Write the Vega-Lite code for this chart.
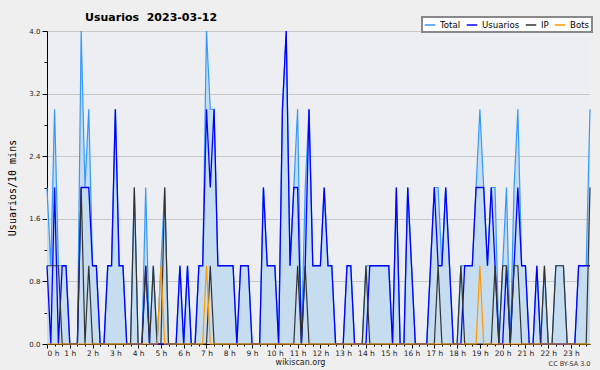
{
"$schema": "https://vega.github.io/schema/vega-lite/v6.json",
"width": 543, "height": 313,
"autosize": {"type": "none"},
"padding": {"left": 47, "top": 31, "right": 10, "bottom": 26},
"background": "#efefef",
"config": {"font": "DejaVu Sans", "view": {"fill": "#eceef1", "stroke": null}},
"title": {"text": "Usuarios\u00a0 2023-03-12", "anchor": "start", "frame": "group", "dx": 38, "dy": 26, "offset": 10, "fontSize": 11, "fontWeight": "bold", "font": "DejaVu Sans", "color": "#000", "baseline": "alphabetic"},
"data": {"values": [
{"t":0,"Total":2,"Usuarios":1,"IP":1,"Bots":0},
{"t":1,"Total":1,"Usuarios":0,"IP":1,"Bots":0},
{"t":2,"Total":3,"Usuarios":2,"IP":1,"Bots":0},
{"t":3,"Total":1,"Usuarios":0,"IP":1,"Bots":0},
{"t":4,"Total":1,"Usuarios":1,"IP":0,"Bots":0},
{"t":5,"Total":1,"Usuarios":1,"IP":0,"Bots":0},
{"t":6,"Total":0,"Usuarios":0,"IP":0,"Bots":0},
{"t":7,"Total":0,"Usuarios":0,"IP":0,"Bots":0},
{"t":8,"Total":0,"Usuarios":0,"IP":0,"Bots":0},
{"t":9,"Total":4,"Usuarios":2,"IP":2,"Bots":0},
{"t":10,"Total":2,"Usuarios":2,"IP":0,"Bots":0},
{"t":11,"Total":3,"Usuarios":2,"IP":1,"Bots":0},
{"t":12,"Total":1,"Usuarios":1,"IP":0,"Bots":0},
{"t":13,"Total":1,"Usuarios":1,"IP":0,"Bots":0},
{"t":14,"Total":0,"Usuarios":0,"IP":0,"Bots":0},
{"t":15,"Total":0,"Usuarios":0,"IP":0,"Bots":0},
{"t":16,"Total":1,"Usuarios":1,"IP":0,"Bots":0},
{"t":17,"Total":1,"Usuarios":1,"IP":0,"Bots":0},
{"t":18,"Total":3,"Usuarios":3,"IP":0,"Bots":0},
{"t":19,"Total":1,"Usuarios":1,"IP":0,"Bots":0},
{"t":20,"Total":1,"Usuarios":1,"IP":0,"Bots":0},
{"t":21,"Total":0,"Usuarios":0,"IP":0,"Bots":0},
{"t":22,"Total":0,"Usuarios":0,"IP":0,"Bots":0},
{"t":23,"Total":2,"Usuarios":0,"IP":2,"Bots":0},
{"t":24,"Total":0,"Usuarios":0,"IP":0,"Bots":0},
{"t":25,"Total":0,"Usuarios":0,"IP":0,"Bots":0},
{"t":26,"Total":2,"Usuarios":1,"IP":1,"Bots":0},
{"t":27,"Total":0,"Usuarios":0,"IP":0,"Bots":0},
{"t":28,"Total":1,"Usuarios":0,"IP":1,"Bots":0},
{"t":29,"Total":0,"Usuarios":0,"IP":0,"Bots":0},
{"t":30,"Total":1,"Usuarios":0,"IP":0,"Bots":1},
{"t":31,"Total":2,"Usuarios":0,"IP":2,"Bots":0},
{"t":32,"Total":0,"Usuarios":0,"IP":0,"Bots":0},
{"t":33,"Total":0,"Usuarios":0,"IP":0,"Bots":0},
{"t":34,"Total":0,"Usuarios":0,"IP":0,"Bots":0},
{"t":35,"Total":1,"Usuarios":1,"IP":0,"Bots":0},
{"t":36,"Total":0,"Usuarios":0,"IP":0,"Bots":0},
{"t":37,"Total":1,"Usuarios":1,"IP":0,"Bots":0},
{"t":38,"Total":0,"Usuarios":0,"IP":0,"Bots":0},
{"t":39,"Total":0,"Usuarios":0,"IP":0,"Bots":0},
{"t":40,"Total":1,"Usuarios":1,"IP":0,"Bots":0},
{"t":41,"Total":1,"Usuarios":1,"IP":0,"Bots":0},
{"t":42,"Total":4,"Usuarios":3,"IP":0,"Bots":1},
{"t":43,"Total":3,"Usuarios":2,"IP":1,"Bots":0},
{"t":44,"Total":3,"Usuarios":3,"IP":0,"Bots":0},
{"t":45,"Total":1,"Usuarios":1,"IP":0,"Bots":0},
{"t":46,"Total":1,"Usuarios":1,"IP":0,"Bots":0},
{"t":47,"Total":1,"Usuarios":1,"IP":0,"Bots":0},
{"t":48,"Total":1,"Usuarios":1,"IP":0,"Bots":0},
{"t":49,"Total":1,"Usuarios":1,"IP":0,"Bots":0},
{"t":50,"Total":0,"Usuarios":0,"IP":0,"Bots":0},
{"t":51,"Total":1,"Usuarios":1,"IP":0,"Bots":0},
{"t":52,"Total":1,"Usuarios":1,"IP":0,"Bots":0},
{"t":53,"Total":1,"Usuarios":1,"IP":0,"Bots":0},
{"t":54,"Total":0,"Usuarios":0,"IP":0,"Bots":0},
{"t":55,"Total":0,"Usuarios":0,"IP":0,"Bots":0},
{"t":56,"Total":0,"Usuarios":0,"IP":0,"Bots":0},
{"t":57,"Total":2,"Usuarios":2,"IP":0,"Bots":0},
{"t":58,"Total":1,"Usuarios":1,"IP":0,"Bots":0},
{"t":59,"Total":1,"Usuarios":1,"IP":0,"Bots":0},
{"t":60,"Total":1,"Usuarios":1,"IP":0,"Bots":0},
{"t":61,"Total":0,"Usuarios":0,"IP":0,"Bots":0},
{"t":62,"Total":3,"Usuarios":3,"IP":0,"Bots":0},
{"t":63,"Total":4,"Usuarios":4,"IP":0,"Bots":0},
{"t":64,"Total":1,"Usuarios":1,"IP":0,"Bots":0},
{"t":65,"Total":2,"Usuarios":2,"IP":0,"Bots":0},
{"t":66,"Total":3,"Usuarios":2,"IP":1,"Bots":0},
{"t":67,"Total":0,"Usuarios":0,"IP":0,"Bots":0},
{"t":68,"Total":2,"Usuarios":1,"IP":1,"Bots":0},
{"t":69,"Total":3,"Usuarios":3,"IP":0,"Bots":0},
{"t":70,"Total":1,"Usuarios":1,"IP":0,"Bots":0},
{"t":71,"Total":1,"Usuarios":1,"IP":0,"Bots":0},
{"t":72,"Total":1,"Usuarios":1,"IP":0,"Bots":0},
{"t":73,"Total":2,"Usuarios":2,"IP":0,"Bots":0},
{"t":74,"Total":1,"Usuarios":1,"IP":0,"Bots":0},
{"t":75,"Total":1,"Usuarios":1,"IP":0,"Bots":0},
{"t":76,"Total":0,"Usuarios":0,"IP":0,"Bots":0},
{"t":77,"Total":0,"Usuarios":0,"IP":0,"Bots":0},
{"t":78,"Total":0,"Usuarios":0,"IP":0,"Bots":0},
{"t":79,"Total":1,"Usuarios":1,"IP":0,"Bots":0},
{"t":80,"Total":1,"Usuarios":1,"IP":0,"Bots":0},
{"t":81,"Total":0,"Usuarios":0,"IP":0,"Bots":0},
{"t":82,"Total":0,"Usuarios":0,"IP":0,"Bots":0},
{"t":83,"Total":0,"Usuarios":0,"IP":0,"Bots":0},
{"t":84,"Total":1,"Usuarios":0,"IP":1,"Bots":0},
{"t":85,"Total":1,"Usuarios":1,"IP":0,"Bots":0},
{"t":86,"Total":1,"Usuarios":1,"IP":0,"Bots":0},
{"t":87,"Total":1,"Usuarios":1,"IP":0,"Bots":0},
{"t":88,"Total":1,"Usuarios":1,"IP":0,"Bots":0},
{"t":89,"Total":1,"Usuarios":1,"IP":0,"Bots":0},
{"t":90,"Total":1,"Usuarios":1,"IP":0,"Bots":0},
{"t":91,"Total":0,"Usuarios":0,"IP":0,"Bots":0},
{"t":92,"Total":2,"Usuarios":2,"IP":0,"Bots":0},
{"t":93,"Total":0,"Usuarios":0,"IP":0,"Bots":0},
{"t":94,"Total":0,"Usuarios":0,"IP":0,"Bots":0},
{"t":95,"Total":2,"Usuarios":2,"IP":0,"Bots":0},
{"t":96,"Total":1,"Usuarios":1,"IP":0,"Bots":0},
{"t":97,"Total":0,"Usuarios":0,"IP":0,"Bots":0},
{"t":98,"Total":0,"Usuarios":0,"IP":0,"Bots":0},
{"t":99,"Total":0,"Usuarios":0,"IP":0,"Bots":0},
{"t":100,"Total":0,"Usuarios":0,"IP":0,"Bots":0},
{"t":101,"Total":1,"Usuarios":1,"IP":0,"Bots":0},
{"t":102,"Total":2,"Usuarios":2,"IP":0,"Bots":0},
{"t":103,"Total":2,"Usuarios":1,"IP":1,"Bots":0},
{"t":104,"Total":1,"Usuarios":1,"IP":0,"Bots":0},
{"t":105,"Total":2,"Usuarios":2,"IP":0,"Bots":0},
{"t":106,"Total":1,"Usuarios":1,"IP":0,"Bots":0},
{"t":107,"Total":0,"Usuarios":0,"IP":0,"Bots":0},
{"t":108,"Total":0,"Usuarios":0,"IP":0,"Bots":0},
{"t":109,"Total":1,"Usuarios":0,"IP":1,"Bots":0},
{"t":110,"Total":1,"Usuarios":1,"IP":0,"Bots":0},
{"t":111,"Total":1,"Usuarios":1,"IP":0,"Bots":0},
{"t":112,"Total":1,"Usuarios":1,"IP":0,"Bots":0},
{"t":113,"Total":2,"Usuarios":2,"IP":0,"Bots":0},
{"t":114,"Total":3,"Usuarios":2,"IP":0,"Bots":1},
{"t":115,"Total":2,"Usuarios":2,"IP":0,"Bots":0},
{"t":116,"Total":1,"Usuarios":1,"IP":0,"Bots":0},
{"t":117,"Total":2,"Usuarios":2,"IP":0,"Bots":0},
{"t":118,"Total":2,"Usuarios":1,"IP":1,"Bots":0},
{"t":119,"Total":0,"Usuarios":0,"IP":0,"Bots":0},
{"t":120,"Total":1,"Usuarios":0,"IP":1,"Bots":0},
{"t":121,"Total":2,"Usuarios":1,"IP":1,"Bots":0},
{"t":122,"Total":0,"Usuarios":0,"IP":0,"Bots":0},
{"t":123,"Total":2,"Usuarios":1,"IP":1,"Bots":0},
{"t":124,"Total":3,"Usuarios":2,"IP":1,"Bots":0},
{"t":125,"Total":1,"Usuarios":1,"IP":0,"Bots":0},
{"t":126,"Total":1,"Usuarios":1,"IP":0,"Bots":0},
{"t":127,"Total":0,"Usuarios":0,"IP":0,"Bots":0},
{"t":128,"Total":0,"Usuarios":0,"IP":0,"Bots":0},
{"t":129,"Total":1,"Usuarios":1,"IP":0,"Bots":0},
{"t":130,"Total":0,"Usuarios":0,"IP":0,"Bots":0},
{"t":131,"Total":1,"Usuarios":0,"IP":1,"Bots":0},
{"t":132,"Total":0,"Usuarios":0,"IP":0,"Bots":0},
{"t":133,"Total":0,"Usuarios":0,"IP":0,"Bots":0},
{"t":134,"Total":1,"Usuarios":0,"IP":1,"Bots":0},
{"t":135,"Total":1,"Usuarios":0,"IP":1,"Bots":0},
{"t":136,"Total":1,"Usuarios":0,"IP":1,"Bots":0},
{"t":137,"Total":0,"Usuarios":0,"IP":0,"Bots":0},
{"t":138,"Total":0,"Usuarios":0,"IP":0,"Bots":0},
{"t":139,"Total":0,"Usuarios":0,"IP":0,"Bots":0},
{"t":140,"Total":1,"Usuarios":1,"IP":0,"Bots":0},
{"t":141,"Total":1,"Usuarios":1,"IP":0,"Bots":0},
{"t":142,"Total":1,"Usuarios":1,"IP":0,"Bots":0},
{"t":143,"Total":3,"Usuarios":1,"IP":2,"Bots":0}
]},
"encoding": {
  "x": {"field": "t", "type": "quantitative", "scale": {"domain": [0, 143], "nice": false, "zero": false}},
  "y": {"field": "value", "type": "quantitative", "scale": {"domain": [0, 4], "nice": false}},
  "color": {"field": "key", "type": "nominal",
    "scale": {"domain": ["Total", "Usuarios", "IP", "Bots"], "range": ["#3399ff", "#0000ff", "#333333", "#ff9900"]},
    "legend": {"orient": "none", "legendX": 375, "legendY": -14, "direction": "horizontal", "title": null,
      "columns": 4, "gridAlign": "none",
      "fillColor": "#ffffff", "strokeColor": "#888888", "padding": 2, "symbolType": "stroke", "symbolSize": 110,
      "symbolStrokeWidth": 1.5, "labelFontSize": 8.6, "labelOffset": 4, "columnPadding": 2, "labelColor": "#000000",
      "labelFont": "DejaVu Sans",
      "encode": {"legend": {"update": {"strokeWidth": {"value": 2}}}}}
  }
},
"layer": [
  {"transform": [{"fold": ["Total"]}],
   "mark": {"type": "area", "interpolate": "linear"},
   "encoding": {
     "color": {"value": "#c6dcef"},
     "x": {"field": "t", "type": "quantitative", "scale": {"domain": [0, 143], "nice": false, "zero": false},
       "axis": {"values": [0,6,12,18,24,30,36,42,48,54,60,66,72,78,84,90,96,102,108,114,120,126,132,138],
         "labelExpr": "(datum.value/6) + ' h'", "grid": false, "domainColor": "#000000", "tickColor": "#000000",
         "tickSize": 4, "labelFontSize": 7.5, "labelColor": "#222222", "labelPadding": 1, "labelFont": "DejaVu Sans",
         "title": "wikiscan.org", "titleFontSize": 8, "titleFontWeight": "normal", "titleColor": "#222222", "titleFont": "DejaVu Sans",
         "titleX": 253, "titleY": 20, "titleAlign": "center", "titleBaseline": "alphabetic", "titleAnchor": "start"}},
     "y": {"field": "value", "type": "quantitative", "scale": {"domain": [0, 4], "nice": false},
       "axis": {"values": [0, 0.8, 1.6, 2.4, 3.2, 4.0], "format": ".1f", "grid": true, "gridColor": "#c8c8c8",
         "domainColor": "#000000", "tickColor": "#000000", "tickSize": 5, "labelFontSize": 7, "labelPadding": 2,
         "labelColor": "#222222", "labelFont": "DejaVu Sans",
         "title": "Usuarios/10 mins", "titleFont": "DejaVu Sans Mono", "titleFontSize": 10, "titleFontWeight": "normal",
         "titleColor": "#000000", "titleX": -32, "titleY": 156.5, "titleAngle": -90, "titleAlign": "center",
         "titleBaseline": "alphabetic", "titleAnchor": "start"}}
   }},
  {"transform": [{"fold": ["Total"]}],
   "mark": {"type": "line", "strokeWidth": 1.2},
   "encoding": {
     "x": {"field": "t", "type": "quantitative", "scale": {"domain": [0, 143], "nice": false, "zero": false},
       "axis": {"orient": "bottom", "values": [2,4,8,10,14,16,20,22,26,28,32,34,38,40,44,46,50,52,56,58,62,64,68,70,74,76,80,82,86,88,92,94,98,100,104,106,110,112,116,118,122,124,128,130,134,136,140,142],
         "labels": false, "domain": false, "grid": false, "tickSize": 2, "tickColor": "#000000",
         "title": "CC BY-SA 3.0", "titleFontSize": 6.5, "titleFontWeight": "normal", "titleColor": "#333333", "titleFont": "DejaVu Sans",
         "titleX": 543, "titleY": 21, "titleAlign": "right", "titleBaseline": "alphabetic", "titleAnchor": "start"}},
     "y": {"field": "value", "type": "quantitative", "scale": {"domain": [0, 4], "nice": false},
       "axis": {"orient": "left", "values": [0.4, 1.2, 2.0, 2.8, 3.6], "labels": false, "domain": false, "grid": false,
         "tickSize": 3, "tickColor": "#000000", "title": null}}
   }},
  {"transform": [{"fold": ["Usuarios"]}],
   "mark": {"type": "line", "strokeWidth": 1.3},
   "encoding": {"x": {"field": "t", "type": "quantitative", "axis": null}, "y": {"field": "value", "type": "quantitative", "axis": null}}},
  {"transform": [{"fold": ["IP"]}],
   "mark": {"type": "line", "strokeWidth": 1.2},
   "encoding": {"x": {"field": "t", "type": "quantitative", "axis": null}, "y": {"field": "value", "type": "quantitative", "axis": null}}},
  {"transform": [{"fold": ["Bots"]}],
   "mark": {"type": "line", "strokeWidth": 1.2},
   "encoding": {"x": {"field": "t", "type": "quantitative", "axis": null}, "y": {"field": "value", "type": "quantitative", "axis": null}}}
],
"resolve": {"axis": {"x": "independent", "y": "independent"}}
}
